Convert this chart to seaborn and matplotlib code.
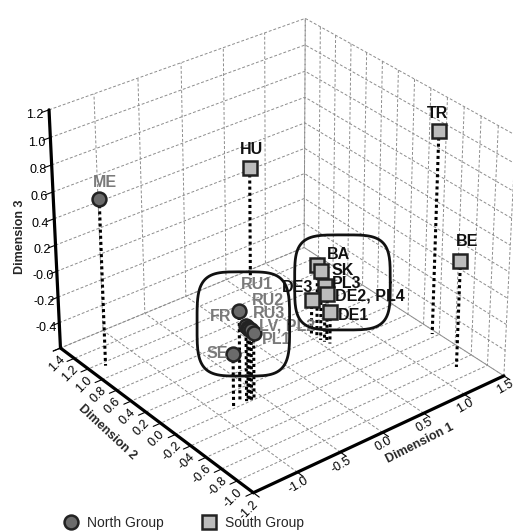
import numpy as np
import matplotlib
matplotlib.use('Agg')
import matplotlib.pyplot as plt
import seaborn as sns
from matplotlib.lines import Line2D
from matplotlib.transforms import offset_copy, IdentityTransform
from mpl_toolkits.mplot3d import proj3d

# North group (circles)
north_labels = ['ME', 'FR', 'RU1', 'RU2', 'RU3', 'LV, PL2', 'PL1', 'SE']
north_d1 = [-1.34, -0.72, -0.66, -0.65, -0.63, -0.61, -0.59, -0.83]
north_d2 = [0.95, -0.16, -0.18, -0.19, -0.19, -0.19, -0.20, -0.20]
north_d3 = [0.67, 0.10, -0.02, -0.04, -0.05, -0.06, -0.09, -0.18]

# South group (squares)
south_labels = ['HU', 'TR', 'BE', 'BA', 'SK', 'PL3', 'DE3', 'DE2, PL4', 'DE1']
south_d1 = [0.70, 1.45, 1.25, 0.54, 0.54, 0.55, 0.51, 0.56, 0.57]
south_d2 = [1.28, -0.36, -0.86, 0.20, 0.15, 0.11, 0.24, 0.09, 0.06]
south_d3 = [0.28, 0.95, 0.22, -0.03, -0.06, -0.16, -0.31, -0.22, -0.35]

d1_ticks = [-1.5, -1.0, -0.5, 0.0, 0.5, 1.0, 1.5]
d1_ticklabels = ['', '-1.0', '-0.5', '0.0', '0.5', '1.0', '1.5']
d2_ticks = [1.4, 1.2, 1.0, 0.8, 0.6, 0.4, 0.2, 0.0, -0.2, -0.4, -0.6, -0.8, -1.0, -1.2]
d2_ticklabels = ['1.4', '1.2', '1.0', '0.8', '0.6', '0.4', '0.2', '0.0', '-0.2', '-04',
                 '-0.6', '-0.8', '-1.0', '-1.2']
d3_ticks = [-0.6, -0.4, -0.2, 0.0, 0.2, 0.4, 0.6, 0.8, 1.0, 1.2]
d3_ticklabels = ['', '-0.4', '-0.2', '-0.0', '0.2', '0.4', '0.6', '0.8', '1.0', '1.2']

# label offsets in points (dx, dy) and alignment
north_off = [(4.3, 12.2, 'center'), (-5.8, -4.3, 'right'), (-3.6, 29.5, 'left'),
             (2.9, 20, 'left'), (2.2, 11.5, 'left'), (5.8, 2.9, 'left'),
             (5.8, -4.3, 'left'), (-3.6, 0.7, 'right')]
south_off = [(1.4, 13.7, 'center'), (-0.7, 13, 'center'), (5, 13.7, 'center'),
             (6.5, 7.2, 'left'), (7.2, 0.7, 'left'), (5, 1.4, 'left'),
             (1.4, 8.6, 'right'), (5.8, -1.4, 'left'), (5.8, -2.2, 'left')]

sns.set_style('white')
plt.rcParams['font.family'] = ['Liberation Sans', 'DejaVu Sans']
plt.rcParams['grid.color'] = '#8c8c8c'
plt.rcParams['grid.linestyle'] = (0, (3, 2))
plt.rcParams['grid.linewidth'] = 0.7

fig = plt.figure(figsize=(5.13, 5.31), dpi=100)
ax = fig.add_axes([0.013, 0.035, 1.04, 0.98], projection='3d', computed_zorder=False)
ax.view_init(elev=31, azim=-128.5)
ax.set_box_aspect((4, 4, 3.45))

zmin = d3_ticks[0]
for xs, ys, zs in [(north_d1, north_d2, north_d3), (south_d1, south_d2, south_d3)]:
    for x, y, z in zip(xs, ys, zs):
        ax.plot([x, x], [y, y], [z, zmin], color='black', linestyle=(0, (1, 1)),
                linewidth=2.2, zorder=2)

ax.plot(north_d1, north_d2, north_d3, linestyle='none', marker='o', markersize=10,
        markerfacecolor='#6b6b6b', markeredgecolor='#222222', markeredgewidth=1.8, zorder=3)
ax.plot(south_d1, south_d2, south_d3, linestyle='none', marker='s', markersize=9.5,
        markerfacecolor='#bcbcbc', markeredgecolor='#222222', markeredgewidth=1.8, zorder=3)

for lab, x, y, z, (dx, dy, ha) in zip(north_labels, north_d1, north_d2, north_d3, north_off):
    ax.text(x, y, z, lab, color='#7a7a7a', fontsize=11.5, fontweight='bold', ha=ha, va='center',
            transform=offset_copy(ax.transData, fig=fig, x=dx, y=dy, units='points'), zorder=4)
for lab, x, y, z, (dx, dy, ha) in zip(south_labels, south_d1, south_d2, south_d3, south_off):
    ax.text(x, y, z, lab, color='#111111', fontsize=11.5, fontweight='bold', ha=ha, va='center',
            transform=offset_copy(ax.transData, fig=fig, x=dx, y=dy, units='points'), zorder=4)

ax.set_xlim(d1_ticks[0], d1_ticks[-1], view_margin=0)
ax.set_ylim(d2_ticks[-1], d2_ticks[0], view_margin=0)
ax.set_zlim(d3_ticks[0], d3_ticks[-1], view_margin=0)
ax.set_xticks(d1_ticks)
ax.set_xticklabels(d1_ticklabels, rotation=30, fontsize=9)
ax.set_yticks(d2_ticks)
ax.set_yticklabels(d2_ticklabels, rotation=45, fontsize=9)
ax.set_zticks(d3_ticks)
ax.set_zticklabels(d3_ticklabels, fontsize=9, va='top')

for axis in (ax.xaxis, ax.yaxis, ax.zaxis):
    axis.pane.set_facecolor((1, 1, 1, 0))
    axis.pane.set_edgecolor((1, 1, 1, 0))
    axis.line.set_color('black')
    axis.line.set_linewidth(2.3)
    axis._axinfo['tick']['inward_factor'] = 0.35
    axis._axinfo['tick']['outward_factor'] = 0.0
ax.tick_params(colors='black')
ax.tick_params(axis='x', pad=-7)
ax.tick_params(axis='y', pad=-5)
ax.tick_params(axis='z', pad=-2)

fig.text(20 / 513, 1 - 237 / 531, 'Dimension 3', rotation=90, fontsize=9, fontweight='bold',
         ha='center', va='center')
fig.text(107 / 513, 1 - 432 / 531, 'Dimension 2', rotation=-43, fontsize=9, fontweight='bold',
         ha='center', va='center')
fig.text(420 / 513, 1 - 443 / 531, 'Dimension 1', rotation=27, fontsize=9, fontweight='bold',
         ha='center', va='center')

# rounded outlines around the two clusters, drawn in screen space
fig.canvas.draw()
M = ax.get_proj()


def outline(xs, ys, zs, pad):
    px, py, _ = proj3d.proj_transform(np.array(xs), np.array(ys), np.array(zs), M)
    disp = ax.transData.transform(np.column_stack([px, py]))
    left, right = disp[:, 0].min() - pad[0], disp[:, 0].max() + pad[1]
    bottom, top = disp[:, 1].min() - pad[2], disp[:, 1].max() + pad[3]
    cx, cy = (left + right) / 2, (bottom + top) / 2
    rx, ry = (right - left) / 2, (top - bottom) / 2
    t = np.linspace(0, 2 * np.pi, 200)
    n = 4.0
    ox = cx + rx * np.sign(np.cos(t)) * np.abs(np.cos(t)) ** (2 / n)
    oy = cy + ry * np.sign(np.sin(t)) * np.abs(np.sin(t)) ** (2 / n)
    fig.add_artist(Line2D(ox, oy, transform=IdentityTransform(), color='#111111', linewidth=2))


outline(north_d1[1:], north_d2[1:], north_d3[1:], (36, 36, 22, 39))
outline(south_d1[3:], south_d2[3:], south_d3[3:], (17, 60, 18, 30))

handles = [
    Line2D([], [], linestyle='none', marker='o', markersize=10, markerfacecolor='#6b6b6b',
           markeredgecolor='#222222', markeredgewidth=1.8, label='North Group'),
    Line2D([], [], linestyle='none', marker='s', markersize=10, markerfacecolor='#bcbcbc',
           markeredgecolor='#222222', markeredgewidth=1.8, label='South Group'),
]
fig.legend(handles=handles, loc='center', bbox_to_anchor=(0.352, 8 / 531), ncol=2,
           frameon=False, fontsize=10, handletextpad=0.1, columnspacing=2.3)

fig.savefig('out.png', dpi=100)
